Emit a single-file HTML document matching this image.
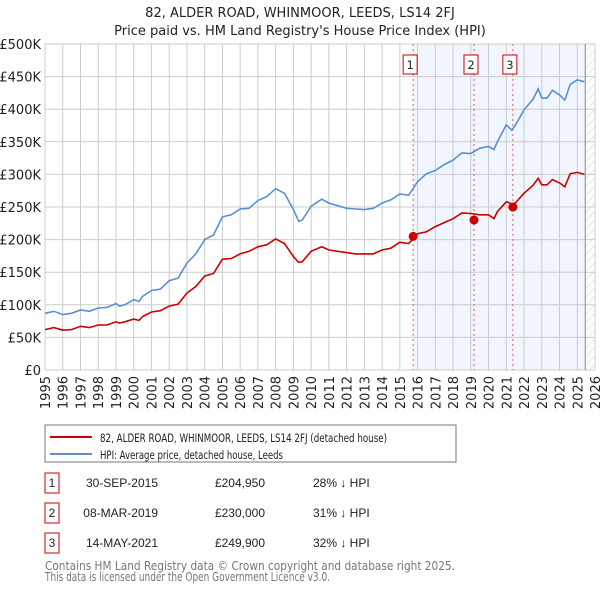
<!DOCTYPE html>
<html><head><meta charset="utf-8"><style>
body{margin:0;background:#fff;width:600px;height:590px;overflow:hidden;font-family:"DejaVu Sans","Liberation Sans",sans-serif;}
svg{display:block}
</style></head><body>
<svg id="c" width="600" height="590" xmlns="http://www.w3.org/2000/svg">
<defs><pattern id="hatch" width="6" height="6" patternUnits="userSpaceOnUse" patternTransform="rotate(45)"><line x1="0" y1="0" x2="0" y2="6" stroke="#ccc" stroke-width="1"/></pattern></defs>
<text x="300" y="17" text-anchor="middle" font-size="13" fill="#222">82, ALDER ROAD, WHINMOOR, LEEDS, LS14 2FJ</text>
<text x="300" y="35" text-anchor="middle" font-size="13" fill="#222">Price paid vs. HM Land Registry's House Price Index (HPI)</text>
<g id="plot"></g>
<rect x="45" y="425" width="411" height="37" fill="#fff" stroke="#777"/>
<line x1="50" y1="437" x2="92" y2="437" stroke="#cc0000" stroke-width="2"/>
<text x="100" y="442" font-size="11.5" fill="#222" textLength="287" lengthAdjust="spacingAndGlyphs">82, ALDER ROAD, WHINMOOR, LEEDS, LS14 2FJ (detached house)</text>
<line x1="50" y1="454" x2="92" y2="454" stroke="#5b8fd1" stroke-width="2"/>
<text x="100" y="459" font-size="11.5" fill="#222" textLength="183" lengthAdjust="spacingAndGlyphs">HPI: Average price, detached house, Leeds</text>
<g id="table" font-size="11.5" fill="#222"></g>
<text x="45" y="570" font-size="12" fill="#777" textLength="410" lengthAdjust="spacingAndGlyphs">Contains HM Land Registry data © Crown copyright and database right 2025.</text>
<text x="45" y="581" font-size="12" fill="#777" textLength="285" lengthAdjust="spacingAndGlyphs">This data is licensed under the Open Government Licence v3.0.</text>
</svg>
<script>
const hpiYears=[1995,1995.5,1996,1996.5,1997,1997.5,1998,1998.5,1999,1999.2,1999.5,2000,2000.3,2000.5,2001,2001.5,2002,2002.5,2003,2003.5,2004,2004.5,2005,2005.5,2006,2006.5,2007,2007.5,2008,2008.5,2009,2009.3,2009.5,2010,2010.6,2011,2012,2012.5,2013,2013.5,2014,2014.5,2015,2015.5,2016,2016.5,2017,2017.5,2018,2018.5,2019,2019.5,2020,2020.3,2020.5,2021,2021.3,2021.5,2022,2022.5,2022.8,2023,2023.3,2023.6,2024,2024.3,2024.6,2025,2025.4];
const hpiValues=[87,90,85,87,92,90,95,96,102,98,100,108,105,113,122,124,137,141,164,178,200,207,235,238,247,248,260,266,278,271,246,228,230,251,262,256,248,247,246,248,256,261,270,268,289,301,306,315,322,333,332,340,343,338,350,376,368,375,399,415,431,417,417,429,422,414,438,445,442];
const priceValues=[62,65,61,62,67,65,69,69,74,72,74,78,76,82,89,91,98,101,118,128,144,148,170,171,178,182,189,192,201,194,174,165,166,182,189,184,180,178,178,178,184,187,196,194,209,212,220,226,232,241,240,238,238,232,243,258,255,256,271,283,294,284,284,292,287,281,301,303,300];
const saleLabels=["1","2","3"];
const saleYears=[2015.75,2019.18,2021.37];
const salePrices=[204950,230000,249900];
const saleDates=["30-SEP-2015","08-MAR-2019","14-MAY-2021"];
const salePriceText=["£204,950","£230,000","£249,900"];
const saleDiffText=["28% ↓ HPI","31% ↓ HPI","32% ↓ HPI"];
const yTicks=[0,50,100,150,200,250,300,350,400,450,500];
const yTickLabels=["£0","£50K","£100K","£150K","£200K","£250K","£300K","£350K","£400K","£450K","£500K"];
const xTicks=[1995,1996,1997,1998,1999,2000,2001,2002,2003,2004,2005,2006,2007,2008,2009,2010,2011,2012,2013,2014,2015,2016,2017,2018,2019,2020,2021,2022,2023,2024,2025,2026];

const NS="http://www.w3.org/2000/svg";
const L=45,R=595,T=44,B=370,X0=1995,X1=2026,dataEnd=2025.45;
const xs=v=>L+(v-X0)/(X1-X0)*(R-L);
const ys=v=>B-v/500*(B-T);
const g=document.getElementById('plot');
function mk(tag,attrs,parent){const e=document.createElementNS(NS,tag);for(const k in attrs)e.setAttribute(k,attrs[k]);(parent||g).appendChild(e);return e;}

let e=mk('rect',{x:xs(saleYears[0]),y:T,width:xs(dataEnd)-xs(saleYears[0]),height:B-T,fill:'#eef3fc',opacity:0.8});


e=mk('rect',{x:xs(dataEnd),y:T,width:R-xs(dataEnd),height:B-T,fill:'url(#hatch)'});


yTicks.forEach((t,i)=>{
  const l=mk('line',{x1:L,x2:R,y1:ys(t),y2:ys(t),stroke:'#ccc','stroke-width':1});
  
  
  const tx=mk('text',{x:L-4,y:ys(t)+5,'text-anchor':'end','font-size':13,fill:'#222'});
  tx.textContent=yTickLabels[i];
  
  
});
xTicks.forEach(t=>{
  const l=mk('line',{x1:xs(t),x2:xs(t),y1:T,y2:B,stroke:'#ccc','stroke-width':1});
  
  
  const tx=mk('text',{x:0,y:0,'text-anchor':'end','font-size':13,fill:'#222',transform:`translate(${xs(t)+5},${B+6}) rotate(-90)`});
  tx.textContent=t;
  
  
});
e=mk('line',{x1:xs(dataEnd),x2:xs(dataEnd),y1:T,y2:B,stroke:'#888','stroke-width':1});


saleYears.forEach((yr,i)=>{
  const l=mk('line',{x1:xs(yr),x2:xs(yr),y1:T,y2:B,stroke:'#e06060','stroke-width':1,'stroke-dasharray':'2,3'});
  
  
  const bx=mk('rect',{x:xs(yr)-10,y:55,width:14,height:19,fill:'#fff',stroke:'#cc0000'});
  
  
  const tx=mk('text',{x:xs(yr)-3,y:69,'text-anchor':'middle','font-size':11.5,fill:'#222'});
  tx.textContent=saleLabels[i];
  
  
});
const pts=(vals)=>hpiYears.map((y,i)=>xs(y).toFixed(1)+','+ys(vals[i]).toFixed(1)).join(' ');
e=mk('polyline',{points:pts(hpiValues),fill:'none',stroke:'#5b8fd1','stroke-width':1.6});


e=mk('polyline',{points:pts(priceValues),fill:'none',stroke:'#cc0000','stroke-width':1.6});


saleYears.forEach((yr,i)=>{
  const c=mk('circle',{cx:xs(yr),cy:ys(salePrices[i]/1000),r:4.5,fill:'#cc0000'});
  
  
});
const tb=document.getElementById('table');
saleLabels.forEach((lab,i)=>{
  const y=483+i*30;
  const b=mk('rect',{x:45,y:y-10,width:14,height:20,fill:'#fff',stroke:'#cc0000'},tb);
  
  
  const colx=[52,158,265,313];
  [[colx[0],'middle',lab],[colx[1],'end',saleDates[i]],[colx[2],'end',salePriceText[i]],[colx[3],'start',saleDiffText[i]]].forEach(cc=>{
    const t=mk('text',{x:cc[0],y:y+4,'text-anchor':cc[1],'font-family':'Liberation Sans, sans-serif','font-size':12},tb);
    t.textContent=cc[2];
    
    
  });
});
</script>
</body></html>
